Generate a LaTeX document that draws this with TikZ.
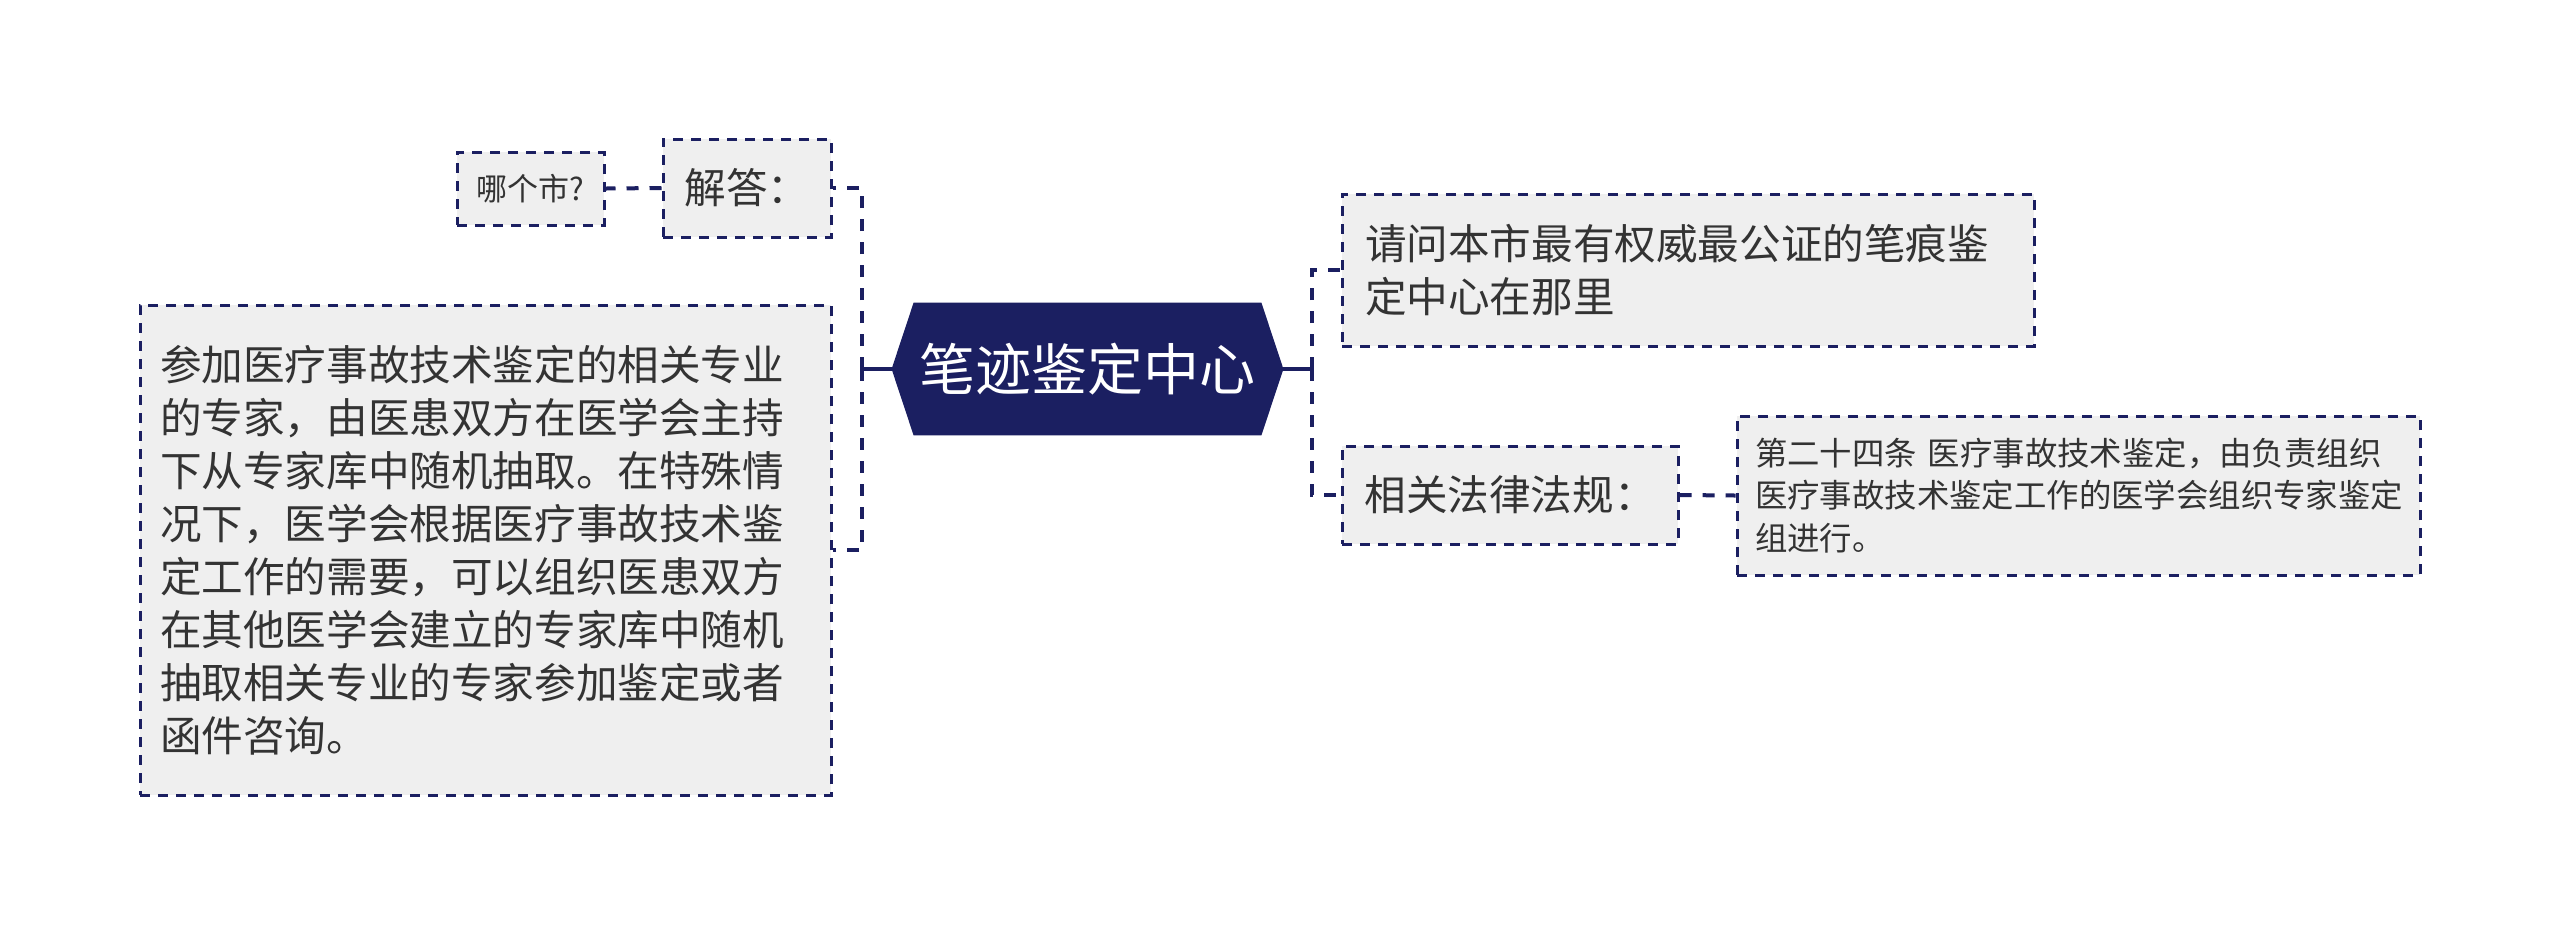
\documentclass[tikz,border=0pt]{standalone}
\usepackage{fontspec}
\setmainfont{Noto Sans CJK SC}
\usetikzlibrary{backgrounds}
\definecolor{navy}{HTML}{1B1F61}
\definecolor{boxfill}{HTML}{EFEFEF}
\definecolor{txt}{HTML}{333333}
\tikzset{
  box/.style={draw=navy, fill=boxfill, line width=1.5pt, dash pattern=on 5pt off 4pt,
    text=txt, inner sep=0pt, align=left},
  mainfont/.style={font=\fontsize{20.8pt}{26.5pt}\selectfont},
  dashc/.style={draw=navy, line width=2pt, dash pattern=on 6pt off 5.5pt},
  solidc/.style={draw=navy, line width=2pt},
}
\begin{document}
\begin{tikzpicture}[x=0.5pt,y=-0.5pt]
\useasboundingbox (0,0) rectangle (2560,934);
% root
\node[text=white, font=\fontsize{28pt}{34pt}\selectfont, minimum width=195.5pt, minimum height=66pt, inner sep=0pt]
  (root) at (1087.5,369) {笔迹鉴定中心};
\begin{scope}[on background layer]
  \fill[white] (0,0) rectangle (2560,934);
  \fill[navy] (root.west) -- ([xshift=11pt]root.north west) -- ([xshift=-11pt]root.north east)
    -- (root.east) -- ([xshift=-11pt]root.south east) -- ([xshift=11pt]root.south west) -- cycle;
\end{scope}
% left side
\node[box, font=\fontsize{15.5pt}{18pt}\selectfont, minimum width=73.5pt, minimum height=36.5pt]
  (q) at (530.5,188.5) {哪个市?};
\node[box, mainfont, minimum width=84pt, minimum height=49pt]
  (ans) at (747,188) {解答：};
\node[box, mainfont, minimum width=345.5pt, minimum height=245pt, inner xsep=10pt, text width=325.5pt]
  (big) at (485.5,550) {参加医疗事故技术鉴定的相关专业\\的专家，由医患双方在医学会主持\\下从专家库中随机抽取。在特殊情\\况下，医学会根据医疗事故技术鉴\\定工作的需要，可以组织医患双方\\在其他医学会建立的专家库中随机\\抽取相关专业的专家参加鉴定或者\\函件咨询。};
% right side
\node[box, mainfont, minimum width=346pt, minimum height=76pt, inner xsep=11.5pt, text width=323pt]
  (rq) at (1688,270) {请问本市最有权威最公证的笔痕鉴\\定中心在那里};
\node[box, mainfont, minimum width=168pt, minimum height=49pt]
  (law) at (1510,495) {相关法律法规：};
\node[box, font=\fontsize{16.2pt}{21.3pt}\selectfont, minimum width=341.5pt, minimum height=79.5pt, inner xsep=9pt, text width=323.5pt]
  (art) at (2078.5,495.5) {第二十四条 医疗事故技术鉴定，由负责组织\\医疗事故技术鉴定工作的医学会组织专家鉴定\\组进行。};
% junctions
\coordinate (lj) at (862,369);
\coordinate (rj) at (1312,369);
% connectors
\draw[solidc] (root.west) -- (lj);
\draw[dashc] (lj) |- (ans.east);
\draw[dashc] (lj) |- (big.east);
\draw[solidc] (root.east) -- (rj);
\draw[dashc] (rj) |- (rq.west);
\draw[dashc] (rj) |- (law.west);
\draw[dashc] (law.east) -- (art.west);
\draw[dashc] (ans.west) -- (q.east);
\end{tikzpicture}
\end{document}
